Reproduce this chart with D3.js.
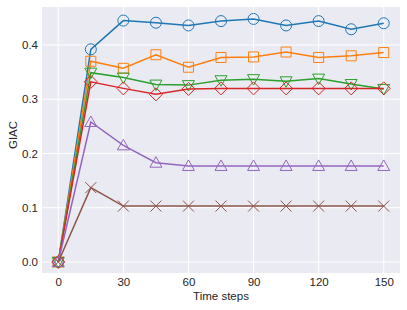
<!DOCTYPE html>
<html>
<head>
<meta charset="utf-8">
<script src="https://cdn.jsdelivr.net/npm/d3@7"></script>
<style>
  body { margin: 0; background: #fff; }
  svg { font-family: "Liberation Sans", Arial, sans-serif; }
  .tick text { fill: #262626; font-size: 11.5px; }
</style>
</head>
<body>
<script>
var steps = [0, 15, 30, 45, 60, 75, 90, 105, 120, 135, 150];
var xTicks = [0, 30, 60, 90, 120, 150];
var yTicks = [0.0, 0.1, 0.2, 0.3, 0.4];

var blueVals   = [0, 0.392, 0.445, 0.441, 0.436, 0.444, 0.448, 0.436, 0.444, 0.429, 0.440];
var orangeVals = [0, 0.370, 0.357, 0.382, 0.359, 0.377, 0.378, 0.387, 0.377, 0.380, 0.386];
var greenVals  = [0, 0.349, 0.340, 0.327, 0.326, 0.335, 0.337, 0.333, 0.338, 0.328, 0.319];
var redVals    = [0, 0.332, 0.320, 0.309, 0.319, 0.320, 0.320, 0.320, 0.320, 0.320, 0.320];
var purpleVals = [0, 0.258, 0.215, 0.183, 0.177, 0.177, 0.177, 0.177, 0.177, 0.177, 0.177];
var brownVals  = [0, 0.137, 0.103, 0.103, 0.103, 0.103, 0.103, 0.103, 0.103, 0.103, 0.103];

var series = [
    {vals: blueVals,   color: "#1f77b4", marker: "circle"},
    {vals: orangeVals, color: "#ff7f0e", marker: "square"},
    {vals: greenVals,  color: "#2ca02c", marker: "tridown"},
    {vals: redVals,    color: "#d62728", marker: "diamond"},
    {vals: purpleVals, color: "#9467bd", marker: "triup"},
    {vals: brownVals,  color: "#8c564b", marker: "x"}
];

var width = 407, height = 310;
var margin = {left: 42, right: 7, top: 7, bottom: 37};

var svg = d3.select("body").append("svg")
    .attr("width", width)
    .attr("height", height);

var x = d3.scaleLinear()
    .domain([-7.5, 157.5])
    .range([margin.left, width - margin.right]);

var y = d3.scaleLinear()
    .domain([-0.0203, 0.470])
    .range([height - margin.bottom, margin.top]);

//background
svg.append("rect")
    .attr("x", margin.left)
    .attr("y", margin.top)
    .attr("width", width - margin.left - margin.right)
    .attr("height", height - margin.top - margin.bottom)
    .attr("fill", "#eaeaf2");

//grid lines
svg.selectAll(".xgrid")
    .data(xTicks)
    .enter()
    .append("line")
    .attr("x1", function(d){ return x(d); })
    .attr("x2", function(d){ return x(d); })
    .attr("y1", margin.top)
    .attr("y2", height - margin.bottom)
    .attr("stroke", "#fff")
    .attr("stroke-width", 1);

svg.selectAll(".ygrid")
    .data(yTicks)
    .enter()
    .append("line")
    .attr("y1", function(d){ return y(d); })
    .attr("y2", function(d){ return y(d); })
    .attr("x1", margin.left)
    .attr("x2", width - margin.right)
    .attr("stroke", "#fff")
    .attr("stroke-width", 1);

//axes (labels only)
var xAxis = svg.append("g")
    .attr("transform", "translate(0," + (height - margin.bottom) + ")")
    .call(d3.axisBottom(x).tickValues(xTicks).tickSize(0).tickPadding(5).tickFormat(d3.format("d")));
xAxis.select(".domain").remove();

var yAxis = svg.append("g")
    .attr("transform", "translate(" + margin.left + ",0)")
    .call(d3.axisLeft(y).tickValues(yTicks).tickSize(0).tickPadding(4).tickFormat(d3.format(".1f")));
yAxis.select(".domain").remove();

svg.append("text")
    .attr("x", (margin.left + width - margin.right) / 2)
    .attr("y", 300)
    .attr("text-anchor", "middle")
    .attr("fill", "#262626")
    .style("font-size", "11.5px")
    .text("Time steps");

svg.append("text")
    .attr("transform", "translate(17," + 135 + ") rotate(-90)")
    .attr("text-anchor", "middle")
    .attr("fill", "#262626")
    .style("font-size", "11.5px")
    .text("GIAC");

var line = d3.line()
    .x(function(d, i){ return x(steps[i]); })
    .y(function(d){ return y(d); });

//marker path generator
function markerPath(type){
    var r = 5.5;
    if (type == "circle") {
        return "M" + r + ",0A" + r + "," + r + " 0 1,1 " + (-r) + ",0A" + r + "," + r + " 0 1,1 " + r + ",0Z";
    } else if (type == "square") {
        var s = 5;
        return "M" + (-s) + "," + (-s) + "H" + s + "V" + s + "H" + (-s) + "Z";
    } else if (type == "tridown") {
        return "M-6,-4.5H6L0,6Z";
    } else if (type == "triup") {
        return "M-6,4.5H6L0,-6Z";
    } else if (type == "diamond") {
        return "M0,-6.5L6.5,0L0,6.5L-6.5,0Z";
    } else {
        return "M-5.5,-5.5L5.5,5.5M-5.5,5.5L5.5,-5.5";
    }
}

series.forEach(function(s){
    var g = svg.append("g");
    g.append("path")
        .datum(s.vals)
        .attr("d", line)
        .attr("fill", "none")
        .attr("stroke", s.color)
        .attr("stroke-width", 1.5);
    g.selectAll(".marker")
        .data(s.vals)
        .enter()
        .append("path")
        .attr("transform", function(d, i){
            return "translate(" + x(steps[i]) + "," + y(d) + ")";
        })
        .attr("d", markerPath(s.marker))
        .attr("fill", "none")
        .attr("stroke", s.color)
        .attr("stroke-width", 1);
});
</script>
</body>
</html>
